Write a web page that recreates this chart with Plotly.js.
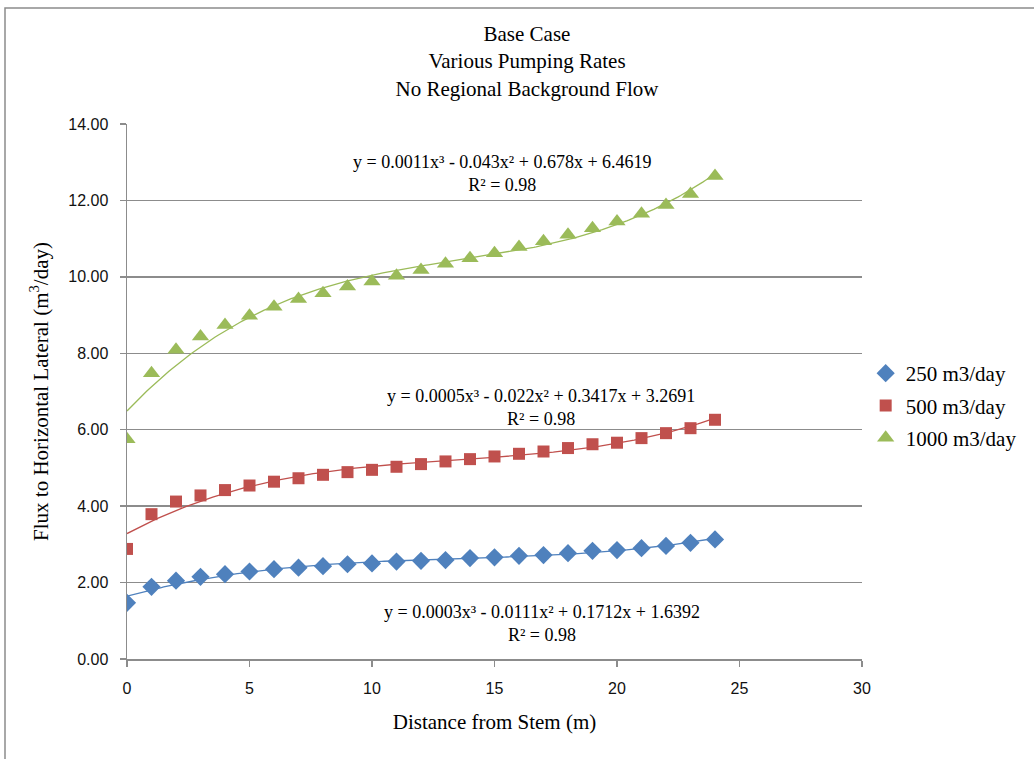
<!DOCTYPE html>
<html>
<head>
<meta charset="utf-8">
<script src="https://cdn.plot.ly/plotly-3.0.1.min.js"></script>
<style>
  html, body { margin: 0; padding: 0; background: #ffffff; }
  #chart { width: 1034px; height: 759px; }
</style>
</head>
<body>
<div id="chart"></div>
<script>
// Distance from stem (m)
const distance = [0, 1, 2, 3, 4, 5, 6, 7, 8, 9, 10, 11, 12, 13, 14, 15, 16, 17, 18, 19, 20, 21, 22, 23, 24];

// Flux to horizontal lateral (m3/day) for each pumping rate
const flux250 = [1.47, 1.89, 2.05, 2.15, 2.22, 2.29, 2.35, 2.39, 2.43, 2.48, 2.50, 2.55, 2.57, 2.59, 2.64, 2.66, 2.70, 2.72, 2.77, 2.83, 2.85, 2.90, 2.96, 3.04, 3.13];
const flux500 = [2.88, 3.79, 4.12, 4.28, 4.42, 4.54, 4.64, 4.73, 4.82, 4.89, 4.95, 5.03, 5.10, 5.17, 5.23, 5.30, 5.37, 5.43, 5.52, 5.62, 5.66, 5.78, 5.91, 6.04, 6.26];
const flux1000 = [5.75, 7.48, 8.09, 8.44, 8.74, 8.98, 9.22, 9.42, 9.57, 9.75, 9.88, 10.03, 10.18, 10.34, 10.49, 10.62, 10.78, 10.93, 11.10, 11.27, 11.45, 11.65, 11.88, 12.17, 12.64];

const seriesNames = ['250 m3/day', '500 m3/day', '1000 m3/day'];

// Trendline equation labels
const eq250 = ['y = 0.0003x³ - 0.0111x² + 0.1712x + 1.6392', 'R² = 0.98'];
const eq500 = ['y = 0.0005x³ - 0.022x² + 0.3417x + 3.2691', 'R² = 0.98'];
const eq1000 = ['y = 0.0011x³ - 0.043x² + 0.678x + 6.4619', 'R² = 0.98'];

const blue = '#4F81BD', red = '#C0504D', green = '#9BBB59';

// Least-squares cubic fit: returns coefficients [a0, a1, a2, a3]
function cubicFit(xs, ys) {
  const n = 4;
  const A = [], b = [];
  for (let i = 0; i < n; i++) {
    A.push(new Array(n).fill(0));
    b.push(0);
  }
  for (let k = 0; k < xs.length; k++) {
    for (let i = 0; i < n; i++) {
      for (let j = 0; j < n; j++) A[i][j] += Math.pow(xs[k], i + j);
      b[i] += ys[k] * Math.pow(xs[k], i);
    }
  }
  for (let c = 0; c < n; c++) {
    let p = c;
    for (let r = c + 1; r < n; r++) if (Math.abs(A[r][c]) > Math.abs(A[p][c])) p = r;
    [A[c], A[p]] = [A[p], A[c]];
    [b[c], b[p]] = [b[p], b[c]];
    for (let r = c + 1; r < n; r++) {
      const f = A[r][c] / A[c][c];
      for (let j = c; j < n; j++) A[r][j] -= f * A[c][j];
      b[r] -= f * b[c];
    }
  }
  const coef = new Array(n).fill(0);
  for (let i = n - 1; i >= 0; i--) {
    let s = b[i];
    for (let j = i + 1; j < n; j++) s -= A[i][j] * coef[j];
    coef[i] = s / A[i][i];
  }
  return coef;
}

// Fitted cubic trendline over the measured distance range
function trendTrace(xs, ys, color) {
  const c = cubicFit(xs, ys);
  const tx = [], ty = [];
  const lo = Math.min(...xs), hi = Math.max(...xs);
  for (let i = 0; i <= 240; i++) {
    const x = lo + (hi - lo) * i / 240;
    tx.push(x);
    ty.push(c[0] + c[1] * x + c[2] * x * x + c[3] * x * x * x);
  }
  return {
    x: tx, y: ty, type: 'scatter', mode: 'lines',
    line: { color: color, width: 1.3 },
    showlegend: false, hoverinfo: 'skip'
  };
}

const traces = [
  trendTrace(distance, flux250, blue),
  trendTrace(distance, flux500, red),
  trendTrace(distance, flux1000, green),
  {
    x: distance, y: flux250, type: 'scatter', mode: 'markers', name: seriesNames[0],
    marker: { symbol: 'diamond', size: 14, color: blue }, legendgroup: 'a'
  },
  {
    x: distance, y: flux500, type: 'scatter', mode: 'markers', name: seriesNames[1],
    marker: { symbol: 'square', size: 12, color: red }, legendgroup: 'b'
  },
  {
    x: distance, y: flux1000, type: 'scatter', mode: 'markers', name: seriesNames[2],
    marker: { symbol: 'triangle-up', size: 15, color: green }, legendgroup: 'c'
  }
];

const serif = 'Liberation Serif, Times New Roman, serif';
const eqFont = { family: serif, size: 18, color: '#000000' };
function eqAnnotation(lines, x, y) {
  return {
    x: x, y: y, xref: 'x', yref: 'y', text: lines.join('<br>'),
    showarrow: false, align: 'center', xanchor: 'center', yanchor: 'middle', font: eqFont
  };
}

const tickFont = { family: 'Liberation Sans, Arial, sans-serif', size: 16, color: '#111111' };

const layout = {
  width: 1034,
  height: 759,
  margin: { l: 127, r: 172, t: 124, b: 100, autoexpand: false },
  paper_bgcolor: '#ffffff',
  plot_bgcolor: '#ffffff',
  font: { family: serif, color: '#000000' },
  title: {
    text: 'Base Case<br>Various Pumping Rates<br>No Regional Background Flow',
    font: { family: serif, size: 21, color: '#000000' },
    x: 527 / 1034, xref: 'container', xanchor: 'center',
    y: 1 - 41 / 759, yref: 'container', yanchor: 'middle'
  },
  xaxis: {
    range: [0, 30], dtick: 5, tick0: 0,
    showgrid: false, zeroline: false,
    showline: true, linecolor: '#8c8c8c', linewidth: 1.5,
    ticks: 'outside', ticklen: 6, tickcolor: '#8c8c8c', tickwidth: 1.5,
    ticklabelstandoff: 8,
    tickfont: tickFont,
    title: {
      text: 'Distance from Stem (m)',
      font: { family: serif, size: 21, color: '#000000' },
      standoff: 18
    },
    automargin: false, fixedrange: true
  },
  yaxis: {
    range: [0, 14], dtick: 2, tick0: 0, tickformat: '.2f',
    showgrid: true, gridcolor: '#8c8c8c', gridwidth: 1.5, zeroline: false,
    showline: true, linecolor: '#8c8c8c', linewidth: 1.5,
    ticks: 'outside', ticklen: 6, tickcolor: '#8c8c8c', tickwidth: 1.5,
    ticklabelstandoff: 8,
    tickfont: tickFont,
    title: {
      text: 'Flux to Horizontal Lateral (m<sup>3</sup>/day)',
      font: { family: serif, size: 21, color: '#000000' },
      standoff: 14
    },
    automargin: false, fixedrange: true
  },
  legend: {
    x: 1.005, xanchor: 'left', y: 0.572, yanchor: 'top',
    font: { family: serif, size: 21, color: '#000000' },
    bgcolor: 'rgba(0,0,0,0)', traceorder: 'grouped', tracegroupgap: 2
  },
  annotations: [
    eqAnnotation(eq1000, 15.31, 12.70),
    eqAnnotation(eq500, 16.9, 6.58),
    eqAnnotation(eq250, 16.94, 0.93)
  ],
  shapes: [
    {
      type: 'rect', xref: 'paper', yref: 'paper',
      x0: (5 - 127) / 735, x1: (1045 - 127) / 735,
      y0: (659 - 770) / 535, y1: (659 - 8) / 535,
      line: { color: '#8c8c8c', width: 1.5 }, fillcolor: 'rgba(0,0,0,0)', layer: 'below'
    }
  ],
  showlegend: true
};

Plotly.newPlot('chart', traces, layout, { displayModeBar: false, staticPlot: true });
</script>
</body>
</html>
